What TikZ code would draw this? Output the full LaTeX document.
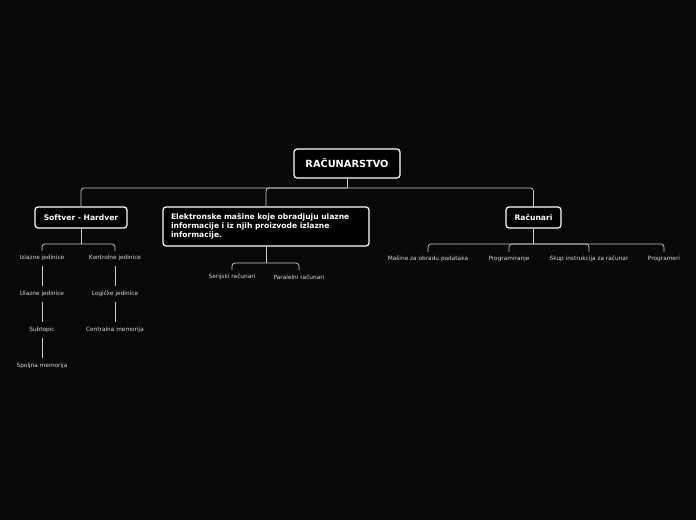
\documentclass[tikz,border=0pt]{standalone}
\usepackage{fontspec}
\setmainfont{DejaVu Sans}
\begin{document}
\begin{tikzpicture}[x=1pt,y=-1pt,
  topic/.style={draw=white,line width=1.2pt,rounded corners=3pt,fill=black,text=white,font=\bfseries\fontsize{7.6}{9}\selectfont,inner sep=0pt},
  sub/.style={text=white!85!black,font=\fontsize{5.8}{7}\selectfont,inner sep=1pt},
  conn/.style={draw=white!80!black,line width=0.7pt,rounded corners=3pt}]
\fill[fill={rgb,255:red,7;green,8;blue,10}] (0,0) rectangle (696,520);
\useasboundingbox (0,0) rectangle (696,520);
% main nodes
\node[topic,minimum width=106pt,minimum height=29pt,font=\bfseries\fontsize{9.8}{11}\selectfont] (root) at (347,163.5) {RAČUNARSTVO};
\node[topic,minimum width=92pt,minimum height=21pt] (sh) at (81,217.5) {Softver - Hardver};
\node[topic,minimum width=206pt,minimum height=39pt,align=left,text width=190pt] (el) at (266,226.5) {Elektronske mašine koje obradjuju ulazne\\informacije i iz njih proizvode izlazne\\informacije.};
\node[topic,minimum width=55pt,minimum height=21pt] (rc) at (533.5,217.5) {Računari};
% subtopics
\node[sub] (iz) at (42,258) {Izlazne jedinice};
\node[sub] (ko) at (115,258) {Kontrolne jedinice};
\node[sub] (ul) at (42,294) {Ulazne jedinice};
\node[sub] (lo) at (115,294) {Logičke jedinice};
\node[sub] (st) at (42,330) {Subtopic};
\node[sub] (ce) at (115,330) {Centralna memorija};
\node[sub] (sp) at (42,366) {Spoljna memorija};
\node[sub] (se) at (232,277) {Serijski računari};
\node[sub] (pa) at (299,277) {Paralelni računari};
\node[sub] (ma) at (428,259) {Mašine za obradu podataka};
\node[sub] (pr) at (509,259) {Programiranje};
\node[sub] (sk) at (589,259) {Skup instrukcija za računar};
\node[sub] (pg) at (664,259) {Programeri};
% connectors
\coordinate (j0) at (347,188);
\draw[conn] (root.south) -- (j0);
\draw[conn] (j0) -| (sh.north);
\draw[conn] (j0) -| (el.north);
\draw[conn] (j0) -| (rc.north);
\coordinate (j1) at (81,244);
\draw[conn] (sh.south) -- (j1);
\draw[conn] (j1) -| ([yshift=3pt]iz.north);
\draw[conn] (j1) -| ([yshift=3pt]ko.north);
\draw[conn] ([yshift=-4pt]iz.south) -- ([yshift=4pt]ul.north);
\draw[conn] ([yshift=-4pt]ul.south) -- ([yshift=4pt]st.north);
\draw[conn] ([yshift=-4pt]st.south) -- ([yshift=4pt]sp.north);
\draw[conn] ([yshift=-4pt]ko.south) -- ([yshift=4pt]lo.north);
\draw[conn] ([yshift=-4pt]lo.south) -- ([yshift=4pt]ce.north);
\coordinate (j2) at (266,263);
\draw[conn] (el.south) -- (j2);
\draw[conn] (j2) -| ([yshift=3pt]se.north);
\draw[conn] (j2) -| ([yshift=3pt]pa.north);
\coordinate (j3) at (533.5,244);
\draw[conn] (rc.south) -- (j3);
\draw[conn] (j3) -| ([yshift=3pt]ma.north);
\draw[conn] (j3) -| ([yshift=3pt]pr.north);
\draw[conn] (j3) -| ([yshift=3pt]sk.north);
\draw[conn] (j3) -| ([yshift=3pt]pg.north);
\end{tikzpicture}
\end{document}
